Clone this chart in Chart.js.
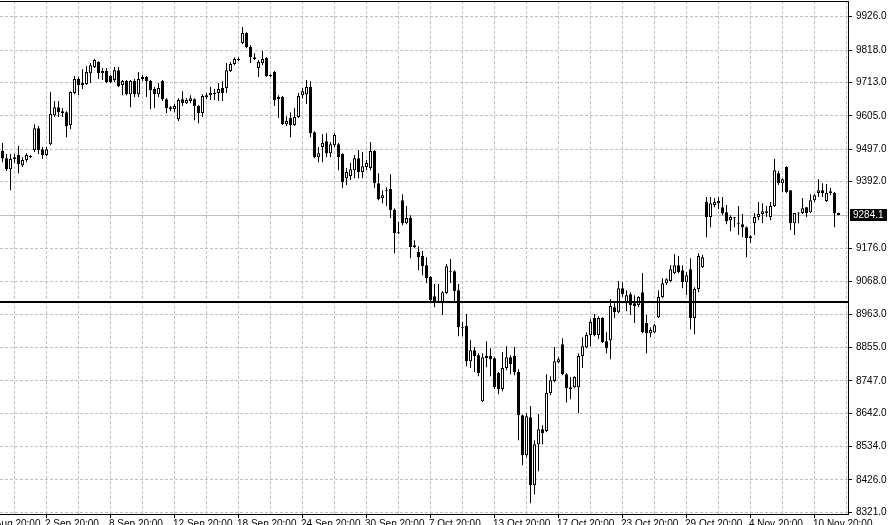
<!DOCTYPE html>
<html>
<head>
<meta charset="utf-8">
<title>Candles</title>
<script src="https://cdn.jsdelivr.net/npm/chart.js@4.4.1/dist/chart.umd.min.js"></script>
<style>
  html, body { margin: 0; padding: 0; background: #fff; }
  canvas { display: block; }
</style>
</head>
<body>
<canvas id="chart" width="894" height="525"></canvas>
<script>
// OHLC per bar (oldest first)
const openP = [
  9492, 9468, 9432, 9465, 9478, 9445, 9462, 9475, 9494, 9565,
  9497, 9478, 9513, 9607, 9633, 9620, 9617, 9575, 9679, 9724,
  9711, 9708, 9743, 9763, 9779, 9743, 9750, 9734, 9721, 9753,
  9705, 9718, 9675, 9718, 9675, 9724, 9731, 9718, 9692, 9675,
  9718, 9659, 9633, 9627, 9594, 9659, 9646, 9653, 9659, 9637,
  9614, 9666, 9672, 9679, 9679, 9695, 9695, 9750, 9773, 9789,
  9841, 9873, 9828, 9795, 9760, 9776, 9792, 9737, 9747, 9666,
  9666, 9578, 9598, 9575, 9601, 9672, 9675, 9698, 9552, 9471,
  9504, 9523, 9484, 9510, 9513, 9481, 9403, 9410, 9429, 9468,
  9423, 9439, 9436, 9491, 9387, 9338, 9364, 9368, 9300, 9228,
  9332, 9257, 9274, 9186, 9164, 9151, 9121, 9083, 9021, 9005,
  9002, 9031, 9102, 9102, 9040, 8920, 8924, 8810, 8846, 8830,
  8681, 8827, 8827, 8820, 8772, 8720, 8788, 8823, 8827, 8775,
  8635, 8506, 8629, 8409, 8541, 8590, 8584, 8707, 8746, 8807,
  8865, 8768, 8726, 8726, 8726, 8827, 8855, 8895, 8950, 8895,
  8950, 8875, 8878, 8985, 8969, 9047, 8998, 9027, 8998, 8992,
  9034, 8934, 8901, 8904, 8953, 9018, 9063, 9070, 9095, 9121,
  9105, 9066, 9108, 8950, 9044, 9115, 9326, 9277, 9316, 9322,
  9309, 9293, 9267, 9275, 9257, 9254, 9244, 9209, 9257, 9277,
  9287, 9290, 9277, 9313, 9419, 9387, 9439, 9364, 9257, 9291,
  9290, 9309, 9293, 9332, 9355, 9364, 9329, 9355, 9355, 9290
];
const highP = [
  9517, 9481, 9481, 9481, 9507, 9471, 9484, 9478, 9578, 9572,
  9504, 9504, 9682, 9653, 9653, 9630, 9620, 9685, 9734, 9731,
  9756, 9766, 9776, 9789, 9782, 9760, 9760, 9737, 9763, 9763,
  9721, 9721, 9721, 9724, 9747, 9737, 9734, 9721, 9698, 9711,
  9721, 9662, 9637, 9643, 9662, 9685, 9662, 9672, 9662, 9640,
  9675, 9679, 9698, 9692, 9711, 9718, 9776, 9779, 9795, 9795,
  9893, 9876, 9834, 9808, 9786, 9815, 9795, 9740, 9750, 9672,
  9669, 9604, 9617, 9630, 9679, 9695, 9721, 9718, 9555, 9504,
  9546, 9549, 9520, 9549, 9517, 9484, 9436, 9452, 9478, 9494,
  9488, 9462, 9520, 9494, 9419, 9364, 9374, 9416, 9306, 9261,
  9351, 9313, 9283, 9202, 9183, 9167, 9147, 9086, 9060, 9060,
  9037, 9125, 9141, 9105, 9060, 8937, 8963, 8878, 8856, 8836,
  8836, 8875, 8852, 8823, 8775, 8840, 8859, 8830, 8856, 8784,
  8638, 8642, 8665, 8554, 8639, 8603, 8768, 8762, 8856, 8823,
  8885, 8771, 8759, 8762, 8836, 8888, 8904, 8946, 8963, 8956,
  8953, 8904, 9011, 8998, 9070, 9066, 9040, 9034, 9024, 9021,
  9096, 8960, 8920, 8930, 9040, 9079, 9079, 9121, 9157, 9151,
  9121, 9099, 9144, 9050, 9160, 9154, 9342, 9342, 9339, 9342,
  9342, 9316, 9283, 9277, 9313, 9287, 9247, 9219, 9290, 9326,
  9322, 9313, 9326, 9465, 9426, 9403, 9442, 9364, 9290, 9293,
  9339, 9310, 9351, 9351, 9400, 9387, 9384, 9371, 9358, 9291
];
const lowP = [
  9455, 9426, 9364, 9452, 9419, 9439, 9455, 9468, 9488, 9481,
  9465, 9475, 9510, 9601, 9601, 9601, 9536, 9562, 9675, 9672,
  9692, 9705, 9711, 9760, 9724, 9721, 9711, 9711, 9714, 9698,
  9672, 9672, 9633, 9666, 9666, 9718, 9666, 9627, 9630, 9666,
  9653, 9614, 9620, 9617, 9588, 9637, 9643, 9646, 9591, 9581,
  9601, 9659, 9656, 9656, 9653, 9653, 9679, 9747, 9769, 9782,
  9837, 9824, 9776, 9786, 9731, 9769, 9731, 9731, 9637, 9598,
  9575, 9572, 9536, 9572, 9598, 9662, 9643, 9536, 9468, 9455,
  9455, 9471, 9471, 9504, 9429, 9371, 9381, 9397, 9403, 9403,
  9403, 9429, 9429, 9371, 9332, 9322, 9313, 9274, 9160, 9222,
  9251, 9254, 9144, 9176, 9105, 9089, 9063, 9005, 8985, 9000,
  8960, 9028, 9063, 9005, 8891, 8891, 8794, 8788, 8775, 8762,
  8678, 8791, 8762, 8720, 8703, 8713, 8781, 8768, 8765, 8554,
  8473, 8499, 8350, 8379, 8454, 8541, 8580, 8700, 8742, 8804,
  8765, 8677, 8687, 8723, 8642, 8788, 8852, 8859, 8891, 8882,
  8869, 8836, 8817, 8950, 8966, 9018, 8972, 8960, 8934, 8985,
  8901, 8836, 8888, 8901, 8950, 9014, 9057, 9066, 9092, 9095,
  9047, 9024, 8914, 8898, 9034, 9112, 9212, 9244, 9309, 9303,
  9283, 9254, 9231, 9244, 9219, 9212, 9147, 9193, 9219, 9267,
  9257, 9277, 9267, 9310, 9381, 9358, 9355, 9235, 9219, 9257,
  9287, 9277, 9290, 9326, 9342, 9342, 9326, 9348, 9244, 9283
];
const closeP = [
  9467, 9432, 9465, 9471, 9449, 9462, 9478, 9471, 9565, 9494,
  9478, 9497, 9611, 9633, 9617, 9614, 9572, 9682, 9724, 9705,
  9705, 9747, 9769, 9786, 9743, 9750, 9714, 9714, 9753, 9701,
  9718, 9675, 9718, 9675, 9724, 9731, 9718, 9688, 9675, 9695,
  9659, 9630, 9627, 9637, 9656, 9646, 9656, 9662, 9637, 9614,
  9669, 9672, 9679, 9675, 9692, 9679, 9753, 9773, 9789, 9786,
  9873, 9828, 9795, 9789, 9779, 9789, 9734, 9734, 9656, 9659,
  9578, 9588, 9575, 9601, 9669, 9685, 9698, 9549, 9471, 9484,
  9517, 9484, 9513, 9543, 9471, 9390, 9423, 9432, 9468, 9423,
  9442, 9452, 9491, 9387, 9335, 9348, 9362, 9300, 9225, 9225,
  9257, 9274, 9180, 9180, 9147, 9118, 9079, 9008, 9005, 9002,
  9034, 9118, 9100, 9037, 8920, 8917, 8810, 8846, 8827, 8772,
  8823, 8820, 8817, 8726, 8720, 8788, 8823, 8801, 8775, 8635,
  8506, 8632, 8409, 8541, 8590, 8577, 8707, 8749, 8810, 8817,
  8768, 8723, 8720, 8759, 8827, 8859, 8895, 8937, 8895, 8950,
  8872, 8852, 8989, 8969, 9047, 9027, 9024, 8992, 8989, 9018,
  8904, 8901, 8911, 8927, 9018, 9063, 9076, 9108, 9121, 9099,
  9066, 9089, 8950, 9044, 9151, 9147, 9277, 9322, 9326, 9329,
  9290, 9264, 9277, 9273, 9254, 9244, 9209, 9215, 9277, 9287,
  9296, 9296, 9313, 9429, 9387, 9400, 9358, 9257, 9290, 9289,
  9306, 9290, 9332, 9348, 9364, 9355, 9355, 9361, 9290, 9284.1
];

// time axis labels and the bar each one starts at
const xTickLabels = [
  "27 Aug 20:00", "2 Sep 20:00", "8 Sep 20:00", "12 Sep 20:00", "18 Sep 20:00",
  "24 Sep 20:00", "30 Sep 20:00", "7 Oct 20:00", "13 Oct 20:00", "17 Oct 20:00",
  "23 Oct 20:00", "29 Oct 20:00", "4 Nov 20:00", "10 Nov 20:00"
];
const xTickBars = [-5, 11, 27, 43, 59, 75, 91, 107, 123, 139, 155, 171, 187, 203];

// price axis labels
const yTickValues = [
  8321.0, 8426.0, 8534.0, 8642.0, 8747.0, 8855.0, 8963.0, 9068.0,
  9176.0, 9392.0, 9497.0, 9605.0, 9713.0, 9818.0, 9926.0
];
const bidPrice = 9284.1;
const levelPrice = 9000;

const FONT = "'Liberation Sans', Arial, sans-serif";

let bodies = [];
let wicks = [];
let bodyColors = [];
for (let i = 0; i < openP.length; i++) {
  bodies.push({ x: i, y: [openP[i], closeP[i]] });
  wicks.push({ x: i, y: [lowP[i], highP[i]] });
  bodyColors.push(closeP[i] >= openP[i] ? "#ffffff" : "#000000");
}

// vertical grid every 8 bars
let gridBars = [];
for (let b = 3; b <= 211; b += 8) gridBars.push(b);

const decor = {
  id: "decor",
  beforeDatasetsDraw(chart) {
    const { ctx, chartArea: a, scales: { y } } = chart;
    ctx.save();
    // bid line
    ctx.fillStyle = "#c0c0c0";
    ctx.fillRect(a.left, Math.round(y.getPixelForValue(bidPrice)), a.right - a.left, 1);
    ctx.restore();
  },
  afterDatasetsDraw(chart) {
    const { ctx, chartArea: a, scales: { y } } = chart;
    ctx.save();
    // horizontal level
    ctx.fillStyle = "#000";
    ctx.fillRect(a.left, Math.floor(y.getPixelForValue(levelPrice)) - 1, a.right - a.left, 2);
    ctx.restore();
  },
  afterDraw(chart) {
    const { ctx, chartArea: a, scales: { x, y } } = chart;
    ctx.save();
    // top frame line
    ctx.fillStyle = "#000";
    ctx.fillRect(a.left, a.top, a.right - a.left + 1, 1);

    // bid price box
    const by = Math.round(y.getPixelForValue(bidPrice));
    ctx.fillRect(a.right + 2, by - 6, 37, 12);
    ctx.fillStyle = "#fff";
    ctx.font = "10px " + FONT;
    ctx.textAlign = "left";
    ctx.textBaseline = "middle";
    ctx.fillText(bidPrice.toFixed(1), a.right + 5, by + 0.5);

    // time labels, left aligned on their tick
    ctx.fillStyle = "#000";
    ctx.textBaseline = "top";
    for (let i = 0; i < xTickLabels.length; i++) {
      const px = x.getPixelForValue(xTickBars[i]);
      ctx.fillText(xTickLabels[i], Math.floor(px) - 1, a.bottom + 5);
    }
    ctx.restore();
  }
};

let ctx = document.getElementById("chart");
var myChart = new Chart(ctx, {
  type: "bar",
  data: {
    datasets: [
      {
        data: bodies,
        order: 0,
        grouped: false,
        barThickness: 3,
        borderWidth: 1,
        borderColor: "#000",
        borderSkipped: false,
        minBarLength: 1,
        inflateAmount: 0,
        backgroundColor: bodyColors
      },
      {
        data: wicks,
        order: 1,
        grouped: false,
        barThickness: 1,
        borderWidth: 0,
        inflateAmount: 0,
        backgroundColor: "#000"
      }
    ]
  },
  options: {
    responsive: false,
    animation: false,
    events: [],
    layout: { padding: { top: 1, left: 0, right: 0, bottom: 0 } },
    plugins: {
      legend: { display: false },
      tooltip: { enabled: false }
    },
    scales: {
      x: {
        type: "linear",
        min: -0.625,
        max: 211.375,
        offset: false,
        grid: {
          offset: false,
          color: "#c0c0c0",
          lineWidth: 1,
          tickLength: 4,
          tickBorderDash: [],
          tickColor: (c) => (c.tick && xTickBars.includes(c.tick.value) ? "#000" : "rgba(0,0,0,0)")
        },
        border: { display: true, color: "#000", width: 1, dash: [3, 2] },
        ticks: { display: false, autoSkip: false },
        afterBuildTicks: (s) => { s.ticks = gridBars.map((v) => ({ value: v })); },
        afterFit: (s) => {
          s.height = 11;
          s.paddingLeft = 0;
          s.paddingRight = 0;
        }
      },
      y: {
        position: "right",
        min: 8315.5,
        max: 9976.9,
        grid: {
          color: "#c0c0c0",
          lineWidth: 1,
          tickLength: 4,
          tickBorderDash: [],
          tickColor: "#000"
        },
        border: { display: true, color: "#000", width: 1, dash: [3, 2] },
        ticks: {
          autoSkip: false,
          padding: 4,
          color: "#000",
          font: { family: FONT, size: 10 },
          callback: (v) => Number(v).toFixed(1)
        },
        afterBuildTicks: (s) => { s.ticks = yTickValues.map((v) => ({ value: v })); },
        afterFit: (s) => {
          s.width = 46;
          s.paddingTop = 0;
          s.paddingBottom = 0;
        }
      }
    }
  },
  plugins: [decor]
});
</script>
</body>
</html>
